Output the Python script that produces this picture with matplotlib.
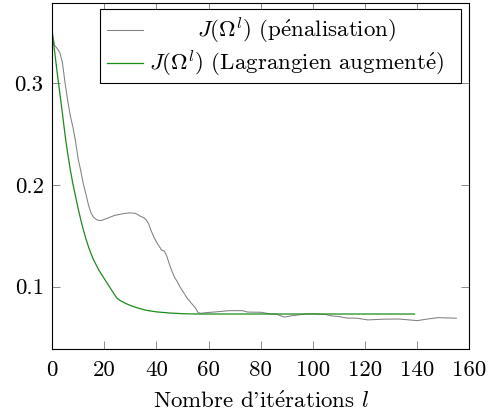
import matplotlib
matplotlib.use("Agg")
import matplotlib.pyplot as plt
from matplotlib.patches import Rectangle
from matplotlib.lines import Line2D

plt.rcParams["font.family"] = ["cmr10", "DejaVu Serif"]
plt.rcParams["mathtext.fontset"] = "cm"
plt.rcParams["axes.formatter.use_mathtext"] = True
plt.rcParams["axes.unicode_minus"] = False

# Objective value per iteration, penalisation method
iter_pen = [0, 1, 2, 3, 4, 5, 6, 7, 8, 9, 10, 11, 12, 13, 14, 15, 16, 17, 18, 19,
            20, 22, 24, 26, 28, 30, 32, 34, 35, 36, 37, 38, 39, 40, 41, 42, 43, 44,
            45, 46, 47, 48, 49, 50, 51, 52, 53, 54, 55, 56, 57, 59, 62, 65, 68, 73,
            75, 80, 84, 86, 89, 92, 97, 100, 105, 107, 110, 113, 117, 121, 127, 133,
            140, 144, 148, 155]
J_pen = [0.351, 0.337, 0.334, 0.330, 0.320, 0.300, 0.283, 0.268, 0.257, 0.243,
         0.226, 0.214, 0.201, 0.191, 0.180, 0.172, 0.168, 0.166, 0.165, 0.165,
         0.166, 0.168, 0.170, 0.171, 0.172, 0.1725, 0.172, 0.169, 0.168, 0.166,
         0.162, 0.155, 0.149, 0.144, 0.140, 0.136, 0.135, 0.130, 0.122, 0.115,
         0.109, 0.105, 0.100, 0.096, 0.092, 0.088, 0.085, 0.082, 0.079, 0.0745,
         0.0738, 0.0744, 0.0750, 0.0757, 0.0764, 0.0764, 0.0750, 0.0748, 0.0731,
         0.0730, 0.0701, 0.0714, 0.0731, 0.0733, 0.0726, 0.0713, 0.0706, 0.0691,
         0.0690, 0.0673, 0.0680, 0.0682, 0.0666, 0.0682, 0.0695, 0.0690]

# Objective value per iteration, augmented Lagrangian method
iter_lag = [0, 1, 2, 3, 4, 5, 6, 7, 8, 9, 10, 11, 12, 13, 14, 15, 16, 17, 18, 19,
            20, 22, 24, 25, 26, 28, 30, 33, 36, 40, 45, 50, 55, 60, 80, 100, 120, 139]
J_lag = [0.351, 0.331, 0.310, 0.290, 0.270, 0.249, 0.231, 0.215, 0.201, 0.189,
         0.177, 0.166, 0.156, 0.147, 0.139, 0.132, 0.126, 0.121, 0.116, 0.112,
         0.108, 0.100, 0.092, 0.0885, 0.0865, 0.0838, 0.0815, 0.0789, 0.0768,
         0.0752, 0.0741, 0.0734, 0.0731, 0.0731, 0.0731, 0.0731, 0.0731, 0.0731]

xticks = [0, 20, 40, 60, 80, 100, 120, 140, 160]
yticks = [0.1, 0.2, 0.3]

label_pen = r"$J(\Omega^l)$ (p$\mathrm{\acute{e}}$nalisation)"
label_lag = r"$J(\Omega^l)$ (Lagrangien augment$\mathrm{\acute{e}}$)"

col_pen = "#808080"
col_lag = "#1a8c1a"
fs = 16.5

fig = plt.figure(figsize=(4.93, 4.15), dpi=100)
ax = fig.add_axes([0.1055, 0.159, 0.8465, 0.8345])

ax.plot(iter_pen, J_pen, color=col_pen, lw=0.75)
ax.plot(iter_lag, J_lag, color=col_lag, lw=0.9)

ax.set_xlim(0, 160)
ax.set_ylim(0.0387, 0.379)
ax.set_xticks(xticks)
ax.set_xticklabels([str(v) for v in xticks])
ax.set_yticks(yticks)
ax.set_yticklabels([f"{v:.1f}" for v in yticks])
ax.tick_params(direction="in", length=6, width=0.6, color="#777777",
               top=True, right=True, labelsize=fs, pad=6)
ax.tick_params(axis="x", pad=8)
for sp in ax.spines.values():
    sp.set_linewidth(0.8)

ax.set_xlabel(r"Nombre d'it$\mathrm{\acute{e}}$rations $l$", fontsize=fs, labelpad=8)

# Legend box with centred entry text
bx0, bx1, by0, by1 = 0.115, 0.980, 0.769, 0.981
ax.add_patch(Rectangle((bx0, by0), bx1 - bx0, by1 - by0, transform=ax.transAxes,
                       facecolor="white", edgecolor="black", lw=0.8, zorder=5))
rows = [(0.921, col_pen, 0.75, label_pen), (0.827, col_lag, 0.9, label_lag)]
for yy, c, lw, lab in rows:
    ax.add_line(Line2D([0.132, 0.218], [yy, yy], transform=ax.transAxes,
                       color=c, lw=lw, zorder=6))
    ax.text(0.585, yy, lab, transform=ax.transAxes, ha="center", va="center",
            fontsize=fs, zorder=6)

fig.savefig("out.png", dpi=100)
